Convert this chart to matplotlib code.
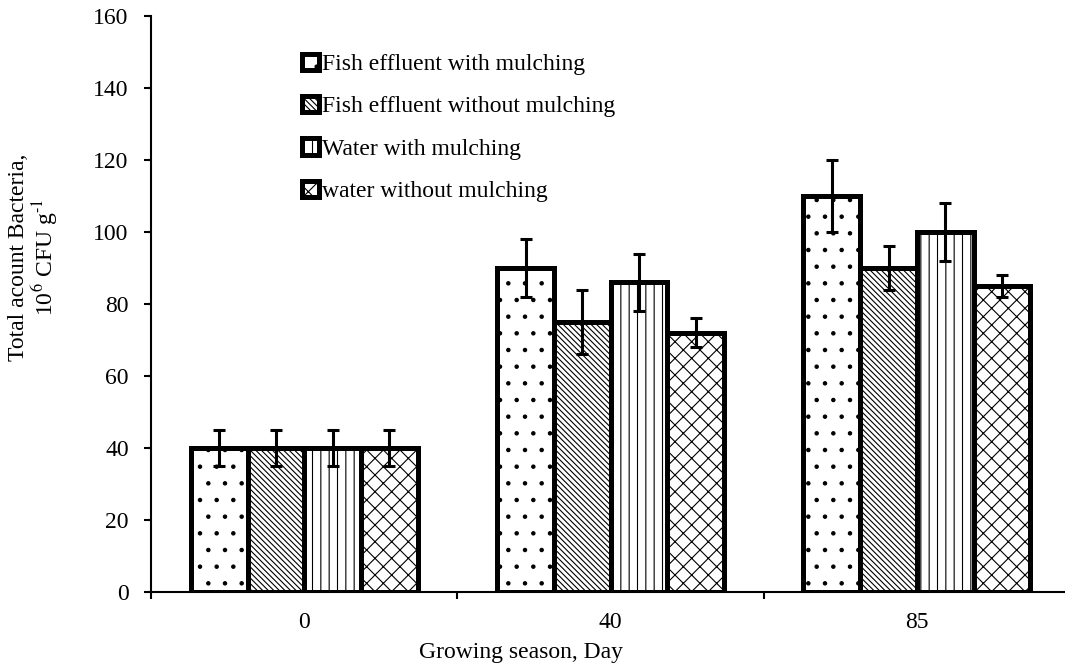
import numpy as np
import matplotlib
matplotlib.use('Agg')
import matplotlib.pyplot as plt
from matplotlib.ticker import FixedLocator, NullFormatter

# Дані з графіка
days = ['0', '40', '85']
series_names = ['Fish effluent with mulching',
                'Fish effluent without mulching',
                'Water with mulching',
                'water without mulching']
fish_mulch = [40, 90, 110]
fish_mulch_err = [5, 8, 10]
fish_no_mulch = [40, 75, 90]
fish_no_mulch_err = [5, 9, 6]
water_mulch = [40, 86, 100]
water_mulch_err = [5, 8, 8]
water_no_mulch = [40, 72, 85]
water_no_mulch_err = [5, 4, 3]
hatches = ['.', '\\' * 6, '||', 'xx']


def draw_chart():
    """Grouped bar chart with hatched bars and error bars."""
    plt.rcParams['font.family'] = ['Liberation Serif', 'DejaVu Serif']
    plt.rcParams['mathtext.fontset'] = 'stix'
    plt.rcParams['hatch.linewidth'] = 0.8

    fig = plt.figure(figsize=(10.65, 6.66), dpi=100)
    ax = fig.add_axes([0.1418, 0.111, 0.8629, 0.865])

    values = [fish_mulch, fish_no_mulch, water_mulch, water_no_mulch]
    errors = [fish_mulch_err, fish_no_mulch_err, water_mulch_err, water_no_mulch_err]
    x = np.arange(len(days))
    width = 0.185

    for i, (vals, errs) in enumerate(zip(values, errors)):
        pos = x + (i - 1.5) * width
        ax.bar(pos, vals, width, color='white', edgecolor='black',
               linewidth=3.6, hatch=hatches[i], label=series_names[i], zorder=2)
        ax.errorbar(pos, vals, yerr=errs, fmt='none', ecolor='black',
                    elinewidth=2.2, capsize=4.3, capthick=2.2, zorder=5)

    ax.set_xlim(-0.5, 2.5)
    ax.set_ylim(0, 160)
    ax.set_yticks(np.arange(0, 161, 20))

    # підписи категорій по центру, риски між групами
    ax.set_xticks(x)
    ax.set_xticklabels(days)
    ax.xaxis.set_minor_locator(FixedLocator([-0.5, 0.5, 1.5, 2.5]))
    ax.xaxis.set_minor_formatter(NullFormatter())
    ax.tick_params(axis='x', which='major', length=0, pad=14, labelsize=17)
    ax.tick_params(axis='x', which='minor', length=5, width=1.5, direction='out')
    ax.tick_params(axis='y', length=5, width=1.5, pad=11, labelsize=17)

    for side in ['top', 'right']:
        ax.spines[side].set_visible(False)
    for side in ['left', 'bottom']:
        ax.spines[side].set_linewidth(1.5)

    fig.text(0.489, 0.021, 'Growing season, Day', fontsize=17,
             ha='center', va='center')
    fig.text(0.032, 0.613, 'Total acount Bacteria,\n10$^{6}$ CFU g$^{\\text{-}1}$',
             fontsize=17, rotation=90, ha='center', va='center',
             multialignment='center', linespacing=1.0)

    ax.legend(loc='upper left', bbox_to_anchor=(0.2836, 0.9195),
              bbox_transform=fig.transFigure, frameon=False, fontsize=17,
              handlelength=0.7, handleheight=0.7, handletextpad=0.15,
              labelspacing=0.88, borderpad=0, borderaxespad=0)

    fig.savefig('out.png', dpi=100)


def main():
    draw_chart()


if __name__ == '__main__':
    main()
